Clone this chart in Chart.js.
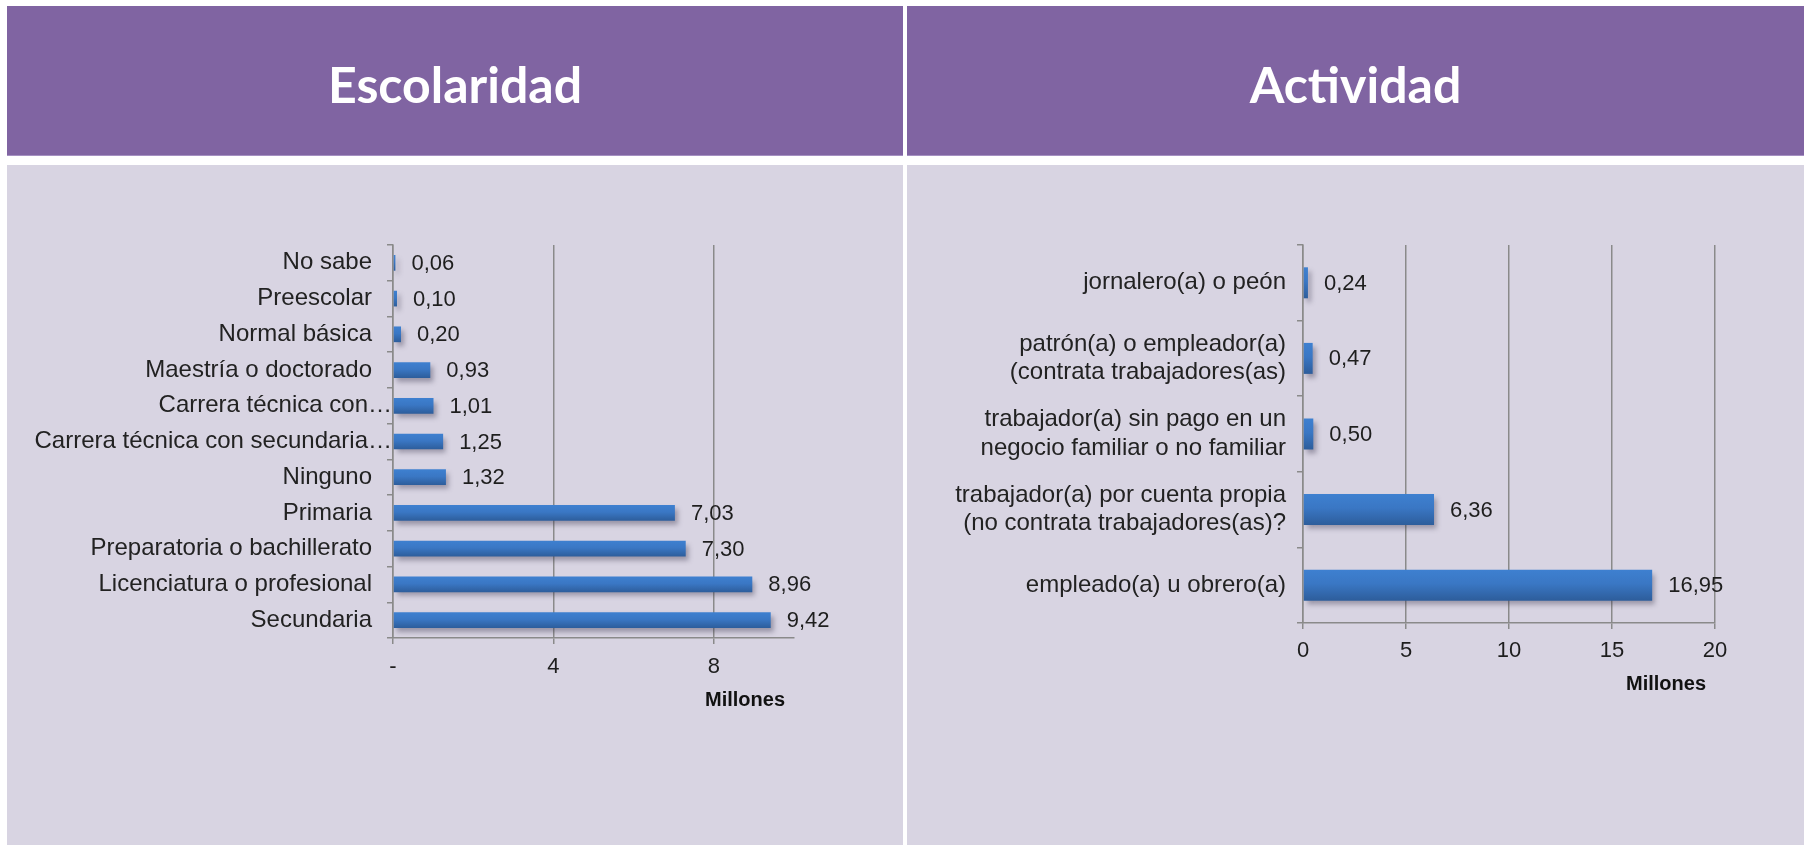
<!DOCTYPE html>
<html><head><meta charset="utf-8">
<script src="https://cdn.jsdelivr.net/npm/chart.js@4.4.1/dist/chart.umd.min.js"></script>
<style>
html,body{margin:0;padding:0;background:#fff;width:1810px;height:845px;overflow:hidden;position:relative;}
.hdr{position:absolute;top:6px;height:150px;background:#8064A2;border-bottom:1px solid #A590C2;color:#fff;font-family:Lato,sans-serif;font-weight:700;font-size:50px;display:flex;align-items:center;justify-content:center;box-sizing:border-box;padding-top:6px;}
.pnl{position:absolute;top:165px;height:680px;background:#D8D4E2}
canvas{position:absolute;top:165px}
</style></head><body>
<div class="hdr" style="left:7px;width:896px">Escolaridad</div>
<div class="hdr" style="left:907px;width:897px">Actividad</div>
<div class="pnl" style="left:7px;width:896px"></div>
<div class="pnl" style="left:907px;width:897px"></div>
<canvas id="c1" width="905" height="680" style="left:0"></canvas>
<canvas id="c2" width="905" height="680" style="left:905px"></canvas>
<script>
// ---- Data ----
const escCategories = ["No sabe","Preescolar","Normal básica","Maestría o doctorado","Carrera técnica con…","Carrera técnica con secundaria…","Ninguno","Primaria","Preparatoria o bachillerato","Licenciatura o profesional","Secundaria"];
const escValues = [0.06,0.10,0.20,0.93,1.01,1.25,1.32,7.03,7.30,8.96,9.42];
const escTickValues = [0,4,8];
const escTickLabels = ["-","4","8"];

const actCategories = [
  "jornalero(a) o peón",
  ["patrón(a) o empleador(a)","(contrata trabajadores(as)"],
  ["trabajador(a) sin pago en un","negocio familiar o no familiar"],
  ["trabajador(a) por cuenta propia","(no contrata trabajadores(as)?"],
  "empleado(a) u obrero(a)"
];
const actValues = [0.24,0.47,0.50,6.36,16.95];
const actTickValues = [0,5,10,15,20];
const actTickLabels = ["0","5","10","15","20"];

const axisTitle = "Millones";

// ---- Styling helpers ----
const FONT = '"Liberation Sans", Arial, sans-serif';
const GRID = '#8a8a8a';

function barGradient(pct){
  return function(ctx){
    const chart = ctx.chart;
    const ys = chart.scales && chart.scales.y;
    if(!chart.chartArea || !ys || !ys.ticks || !ys.ticks.length) return '#3A77C4';
    const yc = ys.getPixelForValue(ctx.dataIndex);
    const half = (ys.height / ys.ticks.length) * pct / 2;
    const g = chart.ctx.createLinearGradient(0, yc-half, 0, yc+half);
    g.addColorStop(0, '#3E80D0');
    g.addColorStop(0.45, '#3A77C4');
    g.addColorStop(1, '#2D5D9B');
    return g;
  };
}

const barShadow = {
  id:'barShadow',
  beforeDatasetsDraw(chart){
    const c = chart.ctx; c.save();
    c.shadowColor = 'rgba(50,45,70,0.38)';
    c.shadowBlur = 5; c.shadowOffsetX = 3; c.shadowOffsetY = 4;
  },
  afterDatasetsDraw(chart){ chart.ctx.restore(); }
};

const valueLabels = {
  id:'valueLabels',
  afterDraw(chart){
    const ctx = chart.ctx;
    const meta = chart.getDatasetMeta(0);
    const data = chart.data.datasets[0].data;
    ctx.save();
    ctx.font = '22px ' + FONT;
    ctx.fillStyle = '#1e1e1e';
    ctx.textAlign = 'left';
    ctx.textBaseline = 'middle';
    meta.data.forEach((el,i)=>{
      ctx.fillText(data[i].toFixed(2).replace('.', ','), el.x + 16, el.y + 1);
    });
    // axis title, right-aligned just short of the axis end
    const a = chart.chartArea;
    const o = chart.options.plugins.valueLabels || {};
    ctx.font = 'bold 20px ' + FONT;
    ctx.fillStyle = '#111';
    ctx.textAlign = 'right';
    ctx.fillText(axisTitle, a.right - 9, a.bottom + (o.titleOffset || 62));
    ctx.restore();
  }
};

// truncated ("…") category labels run right up to the axis, like the original
function shiftTruncatedLabels(scale){
  if (scale._truncPatched || typeof scale._computeLabelItems !== 'function') return;
  const orig = scale._computeLabelItems;
  const gap = scale.options.ticks.padding + scale.options.grid.tickLength - 1;
  scale._computeLabelItems = function(ca){
    const items = orig.call(this, ca);
    const labels = this.chart.data.labels;
    items.forEach((it, i) => {
      const t = this.ticks[i];
      const lab = t ? labels[t.value] : null;
      if (typeof lab === 'string' && lab.endsWith('…') && it.options && it.options.translation) {
        it.options.translation[0] += gap;
      }
    });
    return items;
  };
  scale._truncPatched = true;
}

function makeChart(id, cats, vals, cfg){
  return new Chart(document.getElementById(id), {
    type:'bar',
    data:{ labels:cats, datasets:[{ data:vals, backgroundColor:barGradient(cfg.pct), borderWidth:0, barPercentage:cfg.pct, categoryPercentage:1 }] },
    plugins:[barShadow, valueLabels],
    options:{
      indexAxis:'y', responsive:false, animation:false, devicePixelRatio:1,
      layout:{ padding:{ left:0, top:80, right:cfg.padRight, bottom:cfg.padBottom } },
      plugins:{ legend:{display:false}, tooltip:{enabled:false}, valueLabels:{ titleOffset:cfg.titleOffset } },
      scales:{
        x:{
          type:'linear', min:0, max:cfg.max,
          afterBuildTicks(s){ s.ticks = cfg.tickValues.map(v=>({value:v})); },
          afterFit(s){ s.height = 100; },
          grid:{ color:GRID, lineWidth:1.5, tickLength:6, drawTicks:true },
          border:{ color:GRID, width:1.5 },
          ticks:{ callback:(v,i)=>cfg.tickLabels[i], color:'#1e1e1e', padding:cfg.xTickPad, maxRotation:0, font:{ family:FONT, size:22 } },
          title:{ display:false }
        },
        y:{
          type:'category',
          afterFit(s){ s.width = cfg.yWidth; },
          afterUpdate(s){ shiftTruncatedLabels(s); },
          grid:{ offset:true, drawOnChartArea:false, tickLength:6, color:GRID, lineWidth:1.5 },
          border:{ color:GRID, width:1.5 },
          ticks:{ autoSkip:false, padding:cfg.yTickPad, color:'#222', font:{ family:FONT, size:24, lineHeight:1.18 } }
        }
      }
    }
  });
}

makeChart('c1', escCategories, escValues, {
  pct:0.44, max:10, tickValues:escTickValues, tickLabels:escTickLabels,
  padRight:111, padBottom:107, yWidth:393, yTickPad:15, xTickPad:10, titleOffset:62
});
makeChart('c2', actCategories, actValues, {
  pct:0.41, max:20, tickValues:actTickValues, tickLabels:actTickLabels,
  padRight:95, padBottom:122, yWidth:398, yTickPad:11, xTickPad:9, titleOffset:61
});
</script>
</body></html>
